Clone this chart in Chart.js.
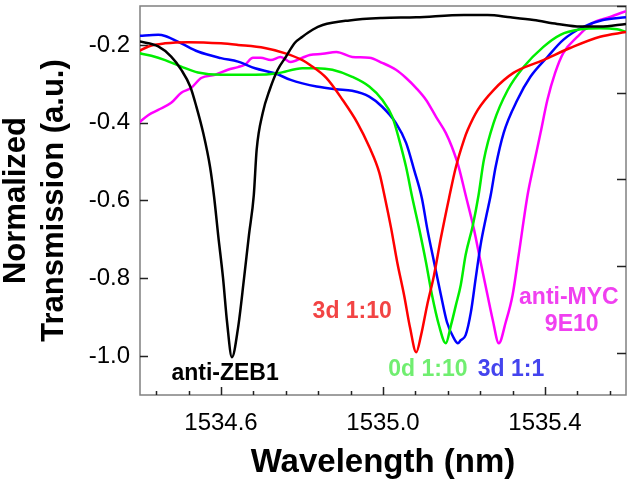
<!DOCTYPE html>
<html>
<head>
<meta charset="utf-8">
<script src="https://cdn.jsdelivr.net/npm/chart.js@4.4.1/dist/chart.umd.min.js"></script>
<style>
  html, body { margin: 0; padding: 0; background: #fff; }
  #wrap { width: 633px; height: 489px; }
</style>
</head>
<body>
<div id="wrap"><canvas id="chart" width="633" height="489"></canvas></div>
<script>
// wavelength (nm) and normalized transmission
const zebWl = [1534.399, 1534.445, 1534.477, 1534.502, 1534.524, 1534.539, 1534.556, 1534.573, 1534.583, 1534.593, 1534.605, 1534.615, 1534.627, 1534.642, 1534.657, 1534.669, 1534.681, 1534.688, 1534.703, 1534.720, 1534.740, 1534.760, 1534.782, 1534.801, 1534.826, 1534.851, 1534.917, 1534.998, 1535.082, 1535.200, 1535.258, 1535.315, 1535.372, 1535.430, 1535.487, 1535.536, 1535.600];
const zebT = [-0.191, -0.204, -0.230, -0.264, -0.307, -0.358, -0.426, -0.514, -0.591, -0.689, -0.799, -0.913, -1.003, -0.928, -0.799, -0.689, -0.586, -0.470, -0.375, -0.316, -0.264, -0.231, -0.195, -0.179, -0.161, -0.149, -0.137, -0.131, -0.129, -0.123, -0.123, -0.129, -0.136, -0.146, -0.153, -0.153, -0.146];

const redWl = [1534.396, 1534.421, 1534.462, 1534.519, 1534.600, 1534.642, 1534.708, 1534.757, 1534.801, 1534.819, 1534.860, 1534.900, 1534.937, 1534.966, 1534.991, 1535.005, 1535.020, 1535.035, 1535.052, 1535.067, 1535.082, 1535.094, 1535.109, 1535.126, 1535.143, 1535.163, 1535.180, 1535.200, 1535.209, 1535.234, 1535.273, 1535.322, 1535.396, 1535.462, 1535.536, 1535.600];
const redT = [-0.217, -0.204, -0.196, -0.193, -0.196, -0.200, -0.208, -0.221, -0.239, -0.251, -0.285, -0.341, -0.401, -0.462, -0.529, -0.594, -0.671, -0.758, -0.843, -0.928, -0.990, -0.946, -0.869, -0.792, -0.696, -0.594, -0.514, -0.444, -0.419, -0.367, -0.316, -0.272, -0.239, -0.208, -0.179, -0.167];

const greenWl = [1534.396, 1534.428, 1534.462, 1534.502, 1534.543, 1534.600, 1534.684, 1534.740, 1534.801, 1534.836, 1534.875, 1534.924, 1534.966, 1534.998, 1535.023, 1535.040, 1535.057, 1535.072, 1535.089, 1535.106, 1535.121, 1535.138, 1535.155, 1535.168, 1535.180, 1535.192, 1535.204, 1535.222, 1535.236, 1535.249, 1535.273, 1535.308, 1535.347, 1535.396, 1535.438, 1535.487, 1535.536, 1535.578, 1535.600];
const greenT = [-0.221, -0.228, -0.239, -0.256, -0.271, -0.277, -0.277, -0.273, -0.260, -0.260, -0.264, -0.282, -0.307, -0.341, -0.385, -0.444, -0.514, -0.591, -0.671, -0.758, -0.843, -0.920, -0.967, -0.920, -0.869, -0.817, -0.740, -0.663, -0.586, -0.496, -0.401, -0.316, -0.257, -0.205, -0.174, -0.160, -0.157, -0.160, -0.166];

const blueWl = [1534.396, 1534.445, 1534.462, 1534.502, 1534.543, 1534.600, 1534.642, 1534.684, 1534.733, 1534.772, 1534.801, 1534.836, 1534.885, 1534.924, 1534.966, 1534.998, 1535.032, 1535.057, 1535.077, 1535.096, 1535.109, 1535.126, 1535.143, 1535.158, 1535.175, 1535.185, 1535.192, 1535.204, 1535.217, 1535.229, 1535.241, 1535.254, 1535.266, 1535.278, 1535.298, 1535.332, 1535.364, 1535.406, 1535.445, 1535.494, 1535.543, 1535.600];
const blueT = [-0.177, -0.174, -0.177, -0.196, -0.217, -0.234, -0.243, -0.260, -0.273, -0.290, -0.299, -0.307, -0.314, -0.318, -0.333, -0.359, -0.401, -0.452, -0.522, -0.594, -0.671, -0.758, -0.843, -0.913, -0.954, -0.967, -0.959, -0.946, -0.887, -0.799, -0.714, -0.645, -0.586, -0.514, -0.426, -0.341, -0.282, -0.231, -0.187, -0.154, -0.136, -0.129];

const mycWl = [1534.396, 1534.421, 1534.445, 1534.477, 1534.502, 1534.526, 1534.551, 1534.585, 1534.617, 1534.642, 1534.659, 1534.679, 1534.698, 1534.723, 1534.747, 1534.772, 1534.801, 1534.819, 1534.851, 1534.885, 1534.924, 1534.966, 1534.998, 1535.032, 1535.057, 1535.082, 1535.106, 1535.131, 1535.155, 1535.170, 1535.187, 1535.204, 1535.224, 1535.241, 1535.258, 1535.271, 1535.286, 1535.303, 1535.320, 1535.335, 1535.357, 1535.371, 1535.389, 1535.406, 1535.425, 1535.445, 1535.480, 1535.519, 1535.561, 1535.600];
const mycT = [-0.401, -0.380, -0.367, -0.349, -0.323, -0.311, -0.285, -0.277, -0.264, -0.257, -0.251, -0.233, -0.233, -0.239, -0.231, -0.244, -0.233, -0.226, -0.223, -0.218, -0.231, -0.233, -0.246, -0.264, -0.285, -0.311, -0.341, -0.385, -0.426, -0.462, -0.514, -0.586, -0.671, -0.758, -0.843, -0.907, -0.967, -0.913, -0.843, -0.740, -0.586, -0.514, -0.426, -0.341, -0.272, -0.221, -0.179, -0.143, -0.128, -0.113];

// axis ticks
const xMajor = [1534.6, 1535.0, 1535.4];
const xMinor = [1534.44, 1534.52, 1534.68, 1534.76, 1534.84, 1534.92, 1535.08, 1535.16, 1535.24, 1535.32, 1535.48, 1535.56];
const yTicks = [-1.0, -0.8, -0.6, -0.4, -0.2];
const rightTicks = [0, 1, 2, 3, 4];

// curve labels: text, wavelength, transmission
const labelText = ['anti-ZEB1', '3d 1:10', '0d 1:10', '3d 1:1', 'anti-MYC', '9E10'];
const labelWl = [1534.610, 1534.924, 1535.111, 1535.316, 1535.459, 1535.466];
const labelT = [-1.044, -0.887, -1.036, -1.036, -0.851, -0.920];

const FONT = "'Liberation Sans', Arial, sans-serif";
const labelColor = ['#000000', '#f24444', '#70ee70', '#4444ee', '#f040f0', '#f040f0'];

function pts(xs, ys) {
  return xs.map((x, i) => ({ x: x, y: ys[i] }));
}

function line(xs, ys, color) {
  return {
    data: pts(xs, ys),
    borderColor: color,
    borderWidth: 2.5,
    pointRadius: 0,
    fill: false,
    cubicInterpolationMode: 'monotone'
  };
}

// no extra room for overhanging tick labels
function noPad(s) {
  s.paddingTop = 0;
  s.paddingBottom = 0;
  s.paddingLeft = 0;
  s.paddingRight = 0;
}

// frame + inward tick marks, then the curve labels
const frameTicks = {
  id: 'frameTicks',
  beforeDatasetsDraw(chart) {
    const { ctx, chartArea: a, scales } = chart;
    ctx.save();
    ctx.strokeStyle = '#808080';
    ctx.lineWidth = 1.5;
    ctx.strokeRect(a.left, a.top, a.right - a.left, a.bottom - a.top);

    ctx.strokeStyle = '#222';
    ctx.lineWidth = 1.5;
    ctx.beginPath();
    xMajor.forEach(v => {
      const px = Math.round(scales.x.getPixelForValue(v)) + 0.5;
      ctx.moveTo(px, a.bottom); ctx.lineTo(px, a.bottom - 8);
    });
    xMinor.forEach(v => {
      const px = Math.round(scales.x.getPixelForValue(v)) + 0.5;
      ctx.moveTo(px, a.bottom); ctx.lineTo(px, a.bottom - 4);
    });
    yTicks.forEach(v => {
      const py = Math.round(scales.y.getPixelForValue(v)) + 0.5;
      ctx.moveTo(a.left, py); ctx.lineTo(a.left + 8, py);
    });
    rightTicks.forEach(v => {
      const py = Math.round(scales.y2.getPixelForValue(v)) + 0.5;
      ctx.moveTo(a.right, py); ctx.lineTo(a.right - 9, py);
    });
    ctx.stroke();
    ctx.restore();
  },
  afterDatasetsDraw(chart) {
    const { ctx, scales } = chart;
    ctx.save();
    ctx.font = 'bold 23px ' + FONT;
    ctx.textAlign = 'center';
    ctx.textBaseline = 'middle';
    labelText.forEach((t, i) => {
      ctx.fillStyle = labelColor[i];
      ctx.fillText(t, scales.x.getPixelForValue(labelWl[i]), scales.y.getPixelForValue(labelT[i]));
    });
    ctx.restore();
  }
};

new Chart(document.getElementById('chart'), {
  type: 'line',
  data: {
    datasets: [
      line(zebWl, zebT, '#000000'),
      line(redWl, redT, '#ff0000'),
      line(greenWl, greenT, '#00ee00'),
      line(blueWl, blueT, '#0000ff'),
      line(mycWl, mycT, '#ff00ff')
    ]
  },
  options: {
    responsive: false,
    animation: false,
    layout: { padding: { top: 6, left: 0, right: 0, bottom: 0 } },
    plugins: { legend: { display: false }, tooltip: { enabled: false } },
    scales: {
      x: {
        type: 'linear',
        min: 1534.4,
        max: 1535.6,
        afterBuildTicks: s => { s.ticks = xMajor.map(v => ({ value: v })); },
        afterFit: s => { s.height = 94; noPad(s); },
        grid: { display: false },
        border: { display: false },
        ticks: {
          autoSkip: false,
          maxRotation: 0,
          padding: 6,
          color: '#000',
          font: { family: FONT, size: 24 },
          callback: v => v.toFixed(1)
        },
        title: {
          display: true,
          text: 'Wavelength (nm)',
          color: '#000',
          font: { family: FONT, size: 33, weight: 'bold' },
          padding: { top: 0, bottom: 6 }
        }
      },
      y: {
        min: -1.1,
        max: -0.1,
        afterBuildTicks: s => { s.ticks = yTicks.map(v => ({ value: v })); },
        afterFit: s => { s.width = 140; noPad(s); },
        grid: { display: false },
        border: { display: false },
        ticks: {
          padding: 2,
          color: '#000',
          font: { family: FONT, size: 24 },
          callback: v => v.toFixed(1)
        },
        title: {
          display: true,
          text: ['Normalized', 'Transmission (a.u.)'],
          color: '#000',
          font: { family: FONT, size: 31, weight: 'bold', lineHeight: 1.23 },
          padding: { top: -3, bottom: 0 }
        }
      },
      y2: {
        position: 'right',
        min: -0.49,
        max: 4,
        afterBuildTicks: s => { s.ticks = rightTicks.map(v => ({ value: v })); },
        afterFit: s => { s.width = 7; noPad(s); },
        grid: { display: false },
        border: { display: false },
        ticks: { display: false }
      }
    }
  },
  plugins: [frameTicks]
});
</script>
</body>
</html>
